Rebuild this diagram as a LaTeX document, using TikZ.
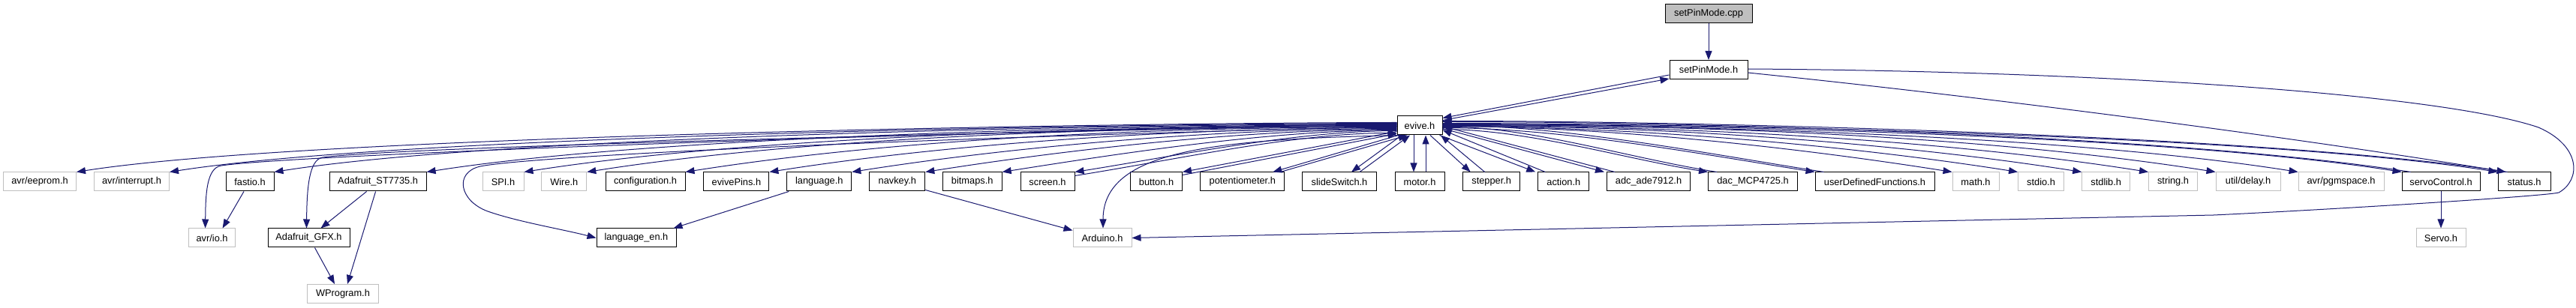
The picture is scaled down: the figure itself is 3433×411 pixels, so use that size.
\documentclass[tikz,border=0pt]{standalone}
\usepackage{fontspec}
\setmainfont{Liberation Sans}
\usetikzlibrary{arrows.meta}
\definecolor{edgeblue}{HTML}{191970}
\definecolor{lightframe}{HTML}{BFBFBF}
\definecolor{rootfill}{HTML}{BFBFBF}
\tikzset{
  file/.style={draw=black, fill=white, line width=1pt, minimum height=25pt, inner sep=0pt, font=\fontsize{12.8}{14}\selectfont},
  ext/.style={file, draw=lightframe},
  rootfile/.style={file, fill=rootfill},
  dep/.style={draw=edgeblue, line width=1pt, -{Triangle[length=12pt,width=9pt]}}
}
% fan edges: start, end, control distance
\newcommand{\lfan}[3]{\draw[dep] (#1) .. controls +(-#3,0) and +({0.988*#3},{0.156*#3}) .. (#2);}
\newcommand{\lback}[3]{\draw[dep] (#1) .. controls +({0.988*#3},{0.156*#3}) and +(-#3,0) .. (#2);}
\newcommand{\rfan}[3]{\draw[dep] (#1) .. controls +(#3,0) and +({-0.988*#3},{0.156*#3}) .. (#2);}
\newcommand{\rback}[3]{\draw[dep] (#1) .. controls +({-0.988*#3},{0.156*#3}) and +(#3,0) .. (#2);}
\begin{document}
\begin{tikzpicture}[x=1pt,y=1pt]
\path[use as bounding box, fill=white] (0,0) rectangle (3433,-411);
% top
\node[rootfile, minimum width=116pt] (cpp) at (2277,-18.5) {setPinMode.cpp};
\node[file, minimum width=104pt] (spmh) at (2277,-93) {setPinMode.h};
\node[file, minimum width=60pt] (evive) at (1892,-167.5) {evive.h};
% main row
\node[ext, minimum width=97pt] (eeprom) at (53,-242.5) {avr/eeprom.h};
\node[ext, minimum width=100pt] (intr) at (175.5,-242.5) {avr/interrupt.h};
\node[file, minimum width=64pt] (fastio) at (333,-242.5) {fastio.h};
\node[file, minimum width=129pt] (st) at (503.6,-242.5) {Adafruit\_ST7735.h};
\node[ext, minimum width=55pt] (spi) at (670.5,-242.5) {SPI.h};
\node[ext, minimum width=60pt] (wire) at (751.8,-242.5) {Wire.h};
\node[file, minimum width=106pt] (conf) at (860,-242.5) {configuration.h};
\node[file, minimum width=87pt] (pins) at (981.4,-242.5) {evivePins.h};
\node[file, minimum width=86pt] (lang) at (1091.8,-242.5) {language.h};
\node[file, minimum width=74pt] (navkey) at (1195.8,-242.5) {navkey.h};
\node[file, minimum width=79pt] (bitmaps) at (1295.7,-242.5) {bitmaps.h};
\node[file, minimum width=72pt] (screen) at (1396,-242.5) {screen.h};
\node[file, minimum width=69pt] (button) at (1541,-242.5) {button.h};
\node[file, minimum width=112pt] (pot) at (1655.8,-242.5) {potentiometer.h};
\node[file, minimum width=99pt] (slide) at (1785,-242.5) {slideSwitch.h};
\node[file, minimum width=66pt] (motor) at (1892,-242.5) {motor.h};
\node[file, minimum width=76pt] (stepper) at (1987.7,-242.5) {stepper.h};
\node[file, minimum width=68pt] (action) at (2083.8,-242.5) {action.h};
\node[file, minimum width=111pt] (adc) at (2197,-242.5) {adc\_ade7912.h};
\node[file, minimum width=119pt] (dac) at (2336,-242.5) {dac\_MCP4725.h};
\node[file, minimum width=159pt] (udf) at (2498.5,-242.5) {userDefinedFunctions.h};
\node[ext, minimum width=62pt] (math) at (2633,-242.5) {math.h};
\node[ext, minimum width=61pt] (stdio) at (2720,-242.5) {stdio.h};
\node[ext, minimum width=64pt] (stdlib) at (2806.7,-242.5) {stdlib.h};
\node[ext, minimum width=65pt] (string) at (2896,-242.5) {string.h};
\node[ext, minimum width=86pt] (delay) at (2996,-242.5) {util/delay.h};
\node[ext, minimum width=114pt] (pgm) at (3120,-242.5) {avr/pgmspace.h};
\node[file, minimum width=104pt] (servoc) at (3253,-242.5) {servoControl.h};
\node[file, minimum width=70pt] (status) at (3364,-242.5) {status.h};
% lower rows
\node[ext, minimum width=62pt] (avrio) at (282.6,-317.5) {avr/io.h};
\node[file, minimum width=109pt] (gfx) at (411.5,-317.5) {Adafruit\_GFX.h};
\node[file, minimum width=106pt] (langen) at (848,-317.5) {language\_en.h};
\node[ext, minimum width=78pt] (arduino) at (1469,-317.5) {Arduino.h};
\node[ext, minimum width=66pt] (servo) at (3253,-317.5) {Servo.h};
\node[ext, minimum width=95pt] (wprog) at (457,-392) {WProgram.h};

% top edges
\draw[dep] (cpp) -- (spmh);
\draw[dep] ([yshift=6pt]spmh.south west) -- ([yshift=-3pt]evive.north east);
\draw[dep] ([yshift=-6pt]evive.north east) -- ([yshift=1pt]spmh.south west);
\draw[dep] ([yshift=-4pt]spmh.east) .. controls (2700,-135) and (3100,-190) .. ([xshift=11pt]status.north west);
\draw[dep] ([yshift=1pt]spmh.east) .. controls (2800,-95) and (3250,-125) .. (3383,-170)
   .. controls (3440,-195) and (3440,-240) .. (3410,-257)
   .. controls (3390,-262) and (3100,-280) .. (2950,-287) -- (arduino.east);

% evive to the left
\lfan{[yshift=4pt]evive.west}{eeprom.north east}{320}
\lfan{[yshift=3pt]evive.west}{intr.north east}{320}
\lfan{[yshift=2pt]evive.west}{fastio.north east}{320}
\lfan{[yshift=1pt]evive.west}{st.north east}{320}
\lfan{[yshift=0pt]evive.west}{spi.north east}{320}
\lfan{[yshift=-1pt]evive.west}{wire.north east}{320}
\lfan{[yshift=-2pt]evive.west}{conf.north east}{297}
\lfan{[yshift=-3pt]evive.west}{pins.north east}{262}
\lfan{[yshift=-4pt]evive.west}{lang.north east}{228}
\lfan{[yshift=-5pt]evive.west}{navkey.north east}{197}
\lfan{[yshift=-6pt]evive.west}{bitmaps.north east}{165}
\lfan{[yshift=-7pt]evive.west}{screen.north east}{135}
\lback{[yshift=-5pt]screen.north east}{[yshift=-10pt]evive.west}{136}
\draw[dep] ([yshift=-8pt]evive.west) -- (button.north east);
\draw[dep] ([yshift=-4pt]button.north east) -- ([yshift=-11pt]evive.west);
\draw[dep] ([xshift=2pt]evive.south west) -- ([xshift=-16pt]pot.north east);
\draw[dep] ([xshift=-6pt]pot.north east) -- ([xshift=14pt]evive.south west);
% curved ones to lower rows
\draw[dep] ([yshift=3pt]evive.west) .. controls (1100,-180) and (380,-208) .. (295,-221)
   .. controls (275,-224) and (274,-260) .. ([xshift=-9pt]avrio.north);
\draw[dep] ([yshift=1pt]evive.west) .. controls (1100,-181) and (520,-198) .. (430,-210)
   .. controls (412,-213) and (409,-250) .. ([xshift=-3pt]gfx.north);
\draw[dep] ([yshift=-1pt]evive.west) .. controls (1100,-188) and (700,-210) .. (640,-222)
   .. controls (605,-230) and (612,-268) .. (650,-282)
   .. controls (690,-296) and (750,-306) .. (langen.west);
\draw[dep] ([xshift=3pt]evive.south west) .. controls (1620,-186) and (1470,-200) .. ([xshift=1pt]arduino.north);
% evive below
\draw[dep] ([xshift=-24pt]evive.south) -- ([xshift=16pt]slide.north);
\draw[dep] ([xshift=27pt]slide.north) -- ([xshift=-13pt]evive.south);
\draw[dep] ([xshift=-8pt]evive.south) -- ([xshift=-8pt]motor.north);
\draw[dep] ([xshift=8pt]motor.north) -- ([xshift=8pt]evive.south);
\draw[dep] ([xshift=14pt]evive.south) -- ([xshift=-28pt]stepper.north);
\draw[dep] ([xshift=-9pt]stepper.north) -- ([xshift=28pt]evive.south);
\draw[dep] ([xshift=-4pt]evive.south east) -- ([xshift=-3pt]action.north west);
\draw[dep] ([xshift=10pt]action.north west) -- ([yshift=-6pt]evive.east);
\draw[dep] ([yshift=-4pt]evive.east) -- ([xshift=-3pt]adc.north west);
\draw[dep] ([xshift=11pt]adc.north west) -- ([yshift=-1pt]evive.east);
% evive to the right
\rfan{[yshift=-5pt]evive.east}{dac.north west}{113}
\rback{[xshift=12pt]dac.north west}{[yshift=-2pt]evive.east}{116}
\rfan{[yshift=-3pt]evive.east}{udf.north west}{157}
\rback{[xshift=12pt]udf.north west}{[yshift=0pt]evive.east}{160}
\rfan{[yshift=-1pt]evive.east}{math.north west}{214}
\rfan{[yshift=-1pt]evive.east}{stdio.north west}{241}
\rfan{[yshift=0pt]evive.east}{stdlib.north west}{268}
\rfan{[yshift=0pt]evive.east}{string.north west}{295}
\rfan{[yshift=1pt]evive.east}{delay.north west}{320}
\rfan{[yshift=1pt]evive.east}{pgm.north west}{320}
\rfan{[yshift=2pt]evive.east}{servoc.north west}{320}
\rback{[xshift=12pt]servoc.north west}{[yshift=5pt]evive.east}{320}
\rfan{[yshift=3pt]evive.east}{status.north west}{320}
\rback{[xshift=13pt]status.north west}{[yshift=6pt]evive.east}{320}
% other dependencies
\draw[dep] ([xshift=-8pt]fastio.south) -- ([xshift=14pt]avrio.north);
\draw[dep] ([xshift=-15pt]st.south) -- ([xshift=16pt]gfx.north);
\draw[dep] ([xshift=-3pt]st.south) -- ([xshift=6pt]wprog.north);
\draw[dep] ([xshift=8pt]gfx.south) -- ([xshift=-11pt]wprog.north);
\draw[dep] ([xshift=3pt]lang.south west) -- ([xshift=-4pt]langen.north east);
\draw[dep] ([yshift=2pt]navkey.south east) -- ([yshift=10pt]arduino.west);
\draw[dep] (servoc) -- (servo);
\end{tikzpicture}
\end{document}
